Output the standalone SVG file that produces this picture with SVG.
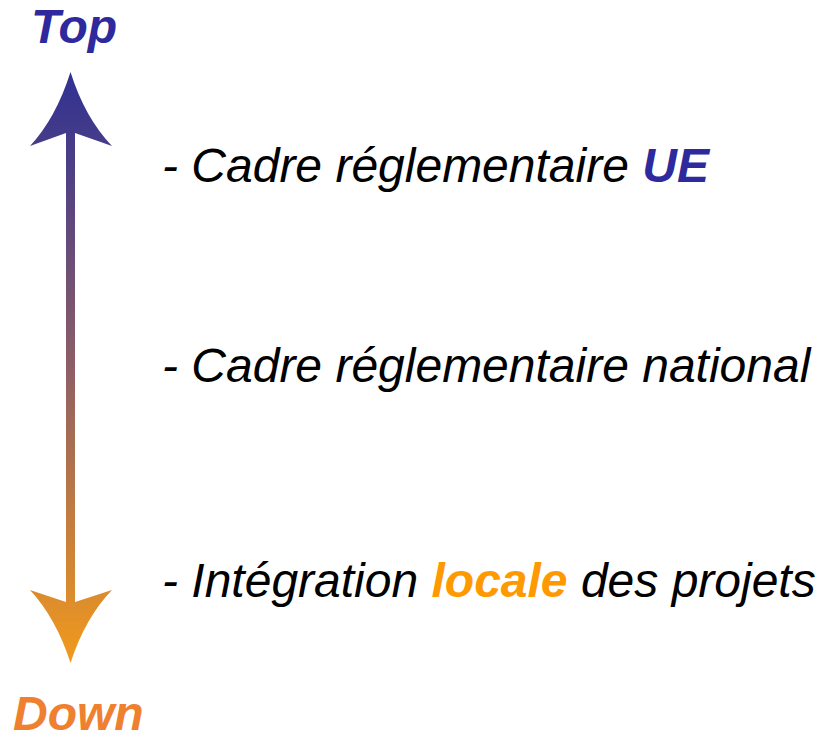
<svg xmlns="http://www.w3.org/2000/svg" width="839" height="740" viewBox="0 0 839 740">
<defs>
<linearGradient id="g" gradientUnits="userSpaceOnUse" x1="0" y1="72" x2="0" y2="663">
<stop offset="0" stop-color="#2f3193"/>
<stop offset="0.5" stop-color="#8e5e66"/>
<stop offset="1" stop-color="#f29a1c"/>
</linearGradient>
<style>
.t{font-family:"Liberation Sans",Arial,sans-serif;font-style:italic;font-size:48px;fill:#000}
.b{font-weight:bold}
.blue{fill:#2e2a9e}
.org{fill:#ff9900}
.down{fill:#ef8030}
</style>
</defs>
<rect width="839" height="740" fill="#fff"/>
<g id="connectors">
<path id="arrow" fill="url(#g)" d="M70.5,72 Q56,118 30,146 L66,133 L66,602 L30,590 Q56,618 70.5,663 Q85,618 112,590 L75,602 L75,133 L112,146 Q85,118 70.5,72 Z"/>
</g>
<g id="top"><text class="t b blue" x="31" y="43" font-size="45">Top</text></g>
<g id="down"><text class="t b down" x="13" y="730" font-size="46">Down</text></g>
<g id="ue"><text class="t" x="162" y="182">- Cadre réglementaire <tspan class="b blue">UE</tspan></text></g>
<g id="national"><text class="t" x="162" y="382">- Cadre réglementaire national</text></g>
<g id="locale"><text class="t" x="162" y="597">- Intégration <tspan class="b org">locale</tspan> des projets</text></g>
</svg>
